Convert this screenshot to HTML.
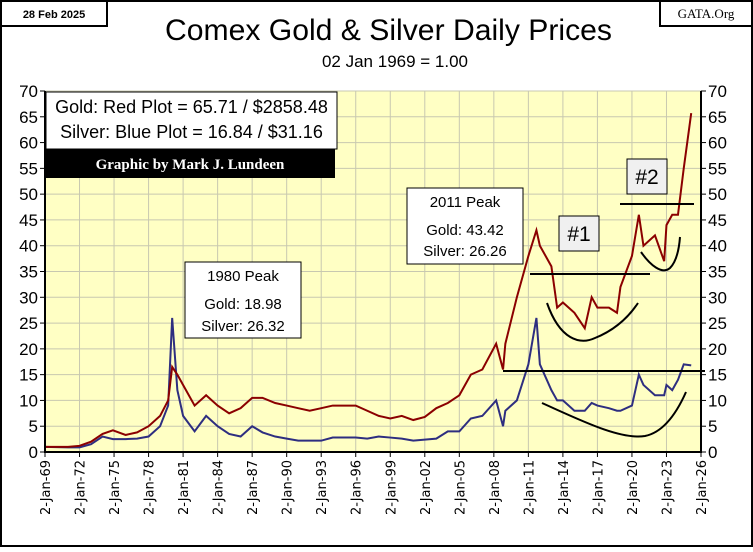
<!DOCTYPE html>
<html><head><meta charset="utf-8"><style>
body{margin:0;width:753px;height:547px;overflow:hidden;background:#fff;font-family:"Liberation Sans",sans-serif}
</style></head><body>
<svg id="c" width="753" height="547" xmlns="http://www.w3.org/2000/svg">
<rect x="1" y="1" width="751" height="545" fill="#fff" stroke="#000" stroke-width="2"/>
<rect x="1" y="1" width="106" height="25" fill="#fff" stroke="#000" stroke-width="2"/>
<text x="54" y="18" font-size="11" font-weight="bold" text-anchor="middle" font-family="Liberation Sans, sans-serif">28 Feb 2025</text>
<rect x="660" y="1" width="92" height="25" fill="#fff" stroke="#000" stroke-width="2"/>
<text x="706" y="18" font-size="13" text-anchor="middle" font-family="Liberation Serif, serif">GATA.Org</text>
<text x="165" y="40" font-size="30" textLength="447" lengthAdjust="spacingAndGlyphs" font-family="Liberation Sans, sans-serif">Comex Gold &amp; Silver Daily Prices</text>
<text x="395" y="67" font-size="17" text-anchor="middle" font-family="Liberation Sans, sans-serif">02 Jan 1969 = 1.00</text>
<rect x="45" y="91" width="656" height="361" fill="#ffffc4"/>
<g id="grid"></g><g id="ser"></g><g id="axes"></g>
</svg>
<script>
const years=[1969,1971,1972,1973,1974,1974.9,1976,1977,1978,1979,1979.7,1980.05,1980.5,1981,1982,1983,1984,1985,1986,1987,1987.9,1989,1990,1991,1992,1993,1994,1995,1996,1997,1998,1999,2000,2001,2002,2003,2004,2005,2006,2007,2008.2,2008.8,2009,2010,2011,2011.7,2012,2013,2013.5,2014,2015,2015.9,2016.5,2017,2018,2018.7,2019,2020,2020.6,2021,2022,2022.8,2023,2023.5,2024,2024.5,2025.15];
const gold=[1,1,1.2,2,3.5,4.2,3.3,3.8,5,7,10,16.5,15,13,9,11,9,7.5,8.5,10.5,10.5,9.5,9,8.5,8,8.5,9,9,9,8,7,6.5,7,6.2,6.8,8.5,9.5,11,15,16,21,16,21,30,38,43,40,36,28,29,27,24,30,28,28,27,32,38,46,40,42,37,44,46,46,55,65.7];
const silver=[1,0.9,0.9,1.5,3,2.5,2.5,2.6,3,5,9,26,12,7,4,7,5,3.5,3,5,3.8,3,2.6,2.2,2.2,2.2,2.8,2.8,2.8,2.6,3,2.8,2.6,2.2,2.4,2.6,4,4,6.5,7,10,5,8,10,17,26,17,12,10,10,8,8,9.5,9,8.5,8,8,9,15,13,11,11,13,12,14,17,16.8];
const yTicks=[0,5,10,15,20,25,30,35,40,45,50,55,60,65,70];
const xTickYears=[1969,1972,1975,1978,1981,1984,1987,1990,1993,1996,1999,2002,2005,2008,2011,2014,2017,2020,2023,2026];
const NS="http://www.w3.org/2000/svg";
const X=y=>45+(y-1969)*(656/57), Y=v=>452-v*(361/70);
function mk(t,a,p){const e=document.createElementNS(NS,t);for(const k in a)e.setAttribute(k,a[k]);p.appendChild(e);return e;}
const g=document.getElementById('grid'),ax=document.getElementById('axes'),s=document.getElementById('ser');
yTicks.forEach(v=>{
 const l=mk('line',{x1:45,x2:701,y1:Y(v),y2:Y(v),stroke:'#c8c8b0','stroke-width':1},g);
 
 
 [[38,'end'],[708,'start']].forEach(([x,an])=>{
  const t=mk('text',{x:x,y:Y(v)+6,'font-size':17,'text-anchor':an,'font-family':'Liberation Sans, sans-serif'},ax);t.textContent=v;
  
  
 });
 mk('line',{x1:40,x2:45,y1:Y(v),y2:Y(v),stroke:'#000'},ax);
 mk('line',{x1:701,x2:706,y1:Y(v),y2:Y(v),stroke:'#000'},ax);
});
xTickYears.forEach(yr=>{
 const x=X(yr);
 const l=mk('line',{x1:x,x2:x,y1:91,y2:452,stroke:'#c8c8b0','stroke-width':1},g);
 
 
 mk('line',{x1:x,x2:x,y1:452,y2:457,stroke:'#000'},ax);
 const t=mk('text',{transform:`translate(${x+5},${460}) rotate(-90)`,'font-size':13,'text-anchor':'end','font-family':'DejaVu Sans, sans-serif'},ax);
 t.textContent='2-Jan-'+String(yr%100).padStart(2,'0');
 
 
});
mk('line',{x1:45,x2:45,y1:91,y2:453,stroke:'#000','stroke-width':2},ax);
mk('line',{x1:701,x2:701,y1:91,y2:453,stroke:'#000','stroke-width':2},ax);
mk('line',{x1:44,x2:702,y1:452,y2:452,stroke:'#000','stroke-width':2},ax);
function line(arr,col,name){const p=mk('polyline',{points:years.map((y,i)=>X(y)+','+Y(arr[i])).join(' '),fill:'none',stroke:col,'stroke-width':2},s);
 
 }
line(silver,'#2e2e80','silver-series');
line(gold,'#8b0000','gold-series');
const an=[['line',{x1:530,x2:650,y1:274,y2:274}],['line',{x1:503,x2:705,y1:371,y2:371}],['line',{x1:620,x2:694,y1:204,y2:204}],
['path',{d:'M547 303 C560 340 580 345 595 338 C615 330 628 318 638 303'}],['path',{d:'M641 252 C650 265 662 275 670 268 C676 262 679 250 680 237'}],['path',{d:'M542 403 C580 420 620 440 645 436 C665 432 678 410 686 392'}]];
an.forEach(([t,a])=>{a.stroke='#000';a.fill='none';a['stroke-width']=2;const e=mk(t,a,s);
 
 });
function box(x,y,w,h,lines,name,fs,fill){const gg=mk('g',{},s);
 
 
 mk('rect',{x:x,y:y,width:w,height:h,fill:fill||'#fff',stroke:'#000','stroke-width':1},gg);
 lines.forEach(([tx,ty])=>{const t=mk('text',{x:x+w/2,y:ty,'font-size':fs,'text-anchor':'middle','font-family':'Liberation Sans, sans-serif'},gg);t.textContent=tx;});}
box(46,92,291,57,[['Gold: Red Plot =  65.71 / $2858.48',113],['Silver: Blue Plot = 16.84 / $31.16',138]],'legend-box',18);
const b=mk('rect',{x:45,y:149,width:290,height:29,fill:'#000'},s);


const ct=mk('text',{x:190,y:169,'font-size':15,'font-weight':'bold',fill:'#fff','text-anchor':'middle','font-family':'Liberation Serif, serif'},s);ct.textContent='Graphic by Mark J. Lundeen';


box(185,262,116,76,[['1980 Peak',281],['Gold:  18.98',309],['Silver: 26.32',331]],'peak-1980-note',15);
box(407,188,116,76,[['2011 Peak',207],['Gold:  43.42',235],['Silver: 26.26',256]],'peak-2011-note',15);
box(559,216,40,35,[['#1',241]],'marker-1',21,'#f0f0f0');
box(627,159,40,35,[['#2',184]],'marker-2',21,'#f0f0f0');
</script>
</body></html>
